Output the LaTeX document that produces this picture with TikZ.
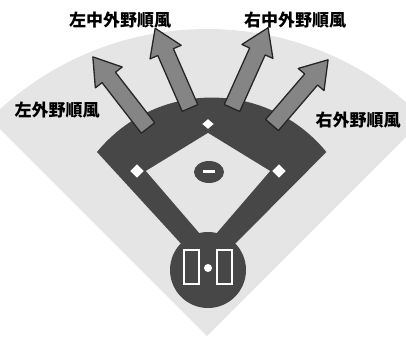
\documentclass[tikz,border=0pt]{standalone}
\usepackage{fontspec}
\newfontfamily\jpfont{Noto Sans CJK JP}
\begin{document}
\begin{tikzpicture}[x=1pt,y=-1pt]
	\tikzstyle{every node}+=[inner sep=0pt]
	\tikzstyle{field}=[fill=black!10]
	\tikzstyle{dirt}=[fill=black!72]
	\tikzstyle{bag}=[fill=white,draw=black!72,line width=1.5pt,line join=round]
	\tikzstyle{wind}=[fill=black!48,draw=black!85,line width=1.3pt,line join=round]
	\tikzstyle{windlabel}=[font=\jpfont\bfseries\fontsize{17}{17}\selectfont]
	\useasboundingbox (0,0) rectangle (406,340);
	\clip (0,0) rectangle (406,340);
	\fill [field] (207,336) -- ++(225:307) arc [start angle=225, end angle=315, radius=307] -- cycle;
	\fill [dirt] (97,152) arc [start angle=219.2, end angle=320.8, radius=148] -- (231,248) -- (185,248) -- cycle;
	\fill [field] (146,171) -- (208,133) -- (270,171) -- (208,243) -- cycle;
	\fill [dirt] (209,172) ellipse [x radius=15, y radius=11];
	\fill [white] (203,169.5) rectangle (215,173);
	\fill [dirt] (208,270) circle [radius=38];
	\draw [white,line width=2.5pt] (184,250) rectangle (199,284);
	\draw [white,line width=2.5pt] (217,250) rectangle (232,284);
	\fill [white] (208,268) circle [radius=4];
	\draw [bag] (137,163) -- (145,171) -- (137,179) -- (129,171) -- cycle;
	\draw [bag] (279,163) -- (287,171) -- (279,179) -- (271,171) -- cycle;
	\draw [bag] (208,118) -- (215,124) -- (208,130) -- (201,124) -- cycle;
	\begin{scope}[shift={(148,128)},rotate=127.8]
		\draw [wind] (0,-8.5) -- (64,-8.5) -- (64,-17) -- (90,0) -- (64,17) -- (64,8.5) -- (0,8.5) -- cycle;
	\end{scope}
	\begin{scope}[shift={(190,108)},rotate=113.6]
		\draw [wind] (0,-8.5) -- (61,-8.5) -- (61,-17) -- (87,0) -- (61,17) -- (61,8.5) -- (0,8.5) -- cycle;
	\end{scope}
	\begin{scope}[shift={(232,108)},rotate=65.8]
		\draw [wind] (0,-8.5) -- (62,-8.5) -- (62,-17) -- (88,0) -- (62,17) -- (62,8.5) -- (0,8.5) -- cycle;
	\end{scope}
	\begin{scope}[shift={(272,125)},rotate=49.3]
		\draw [wind] (0,-8.5) -- (60,-8.5) -- (60,-17) -- (86,0) -- (60,17) -- (60,8.5) -- (0,8.5) -- cycle;
	\end{scope}
	\node [windlabel] (leftcenter) at (120,20) {左中外野順風};
	\node [windlabel] (rightcenter) at (295,20) {右中外野順風};
	\node [windlabel] (left) at (57,110) {左外野順風};
	\node [windlabel] (right) at (358,120) {右外野順風};
\end{tikzpicture}
\end{document}
